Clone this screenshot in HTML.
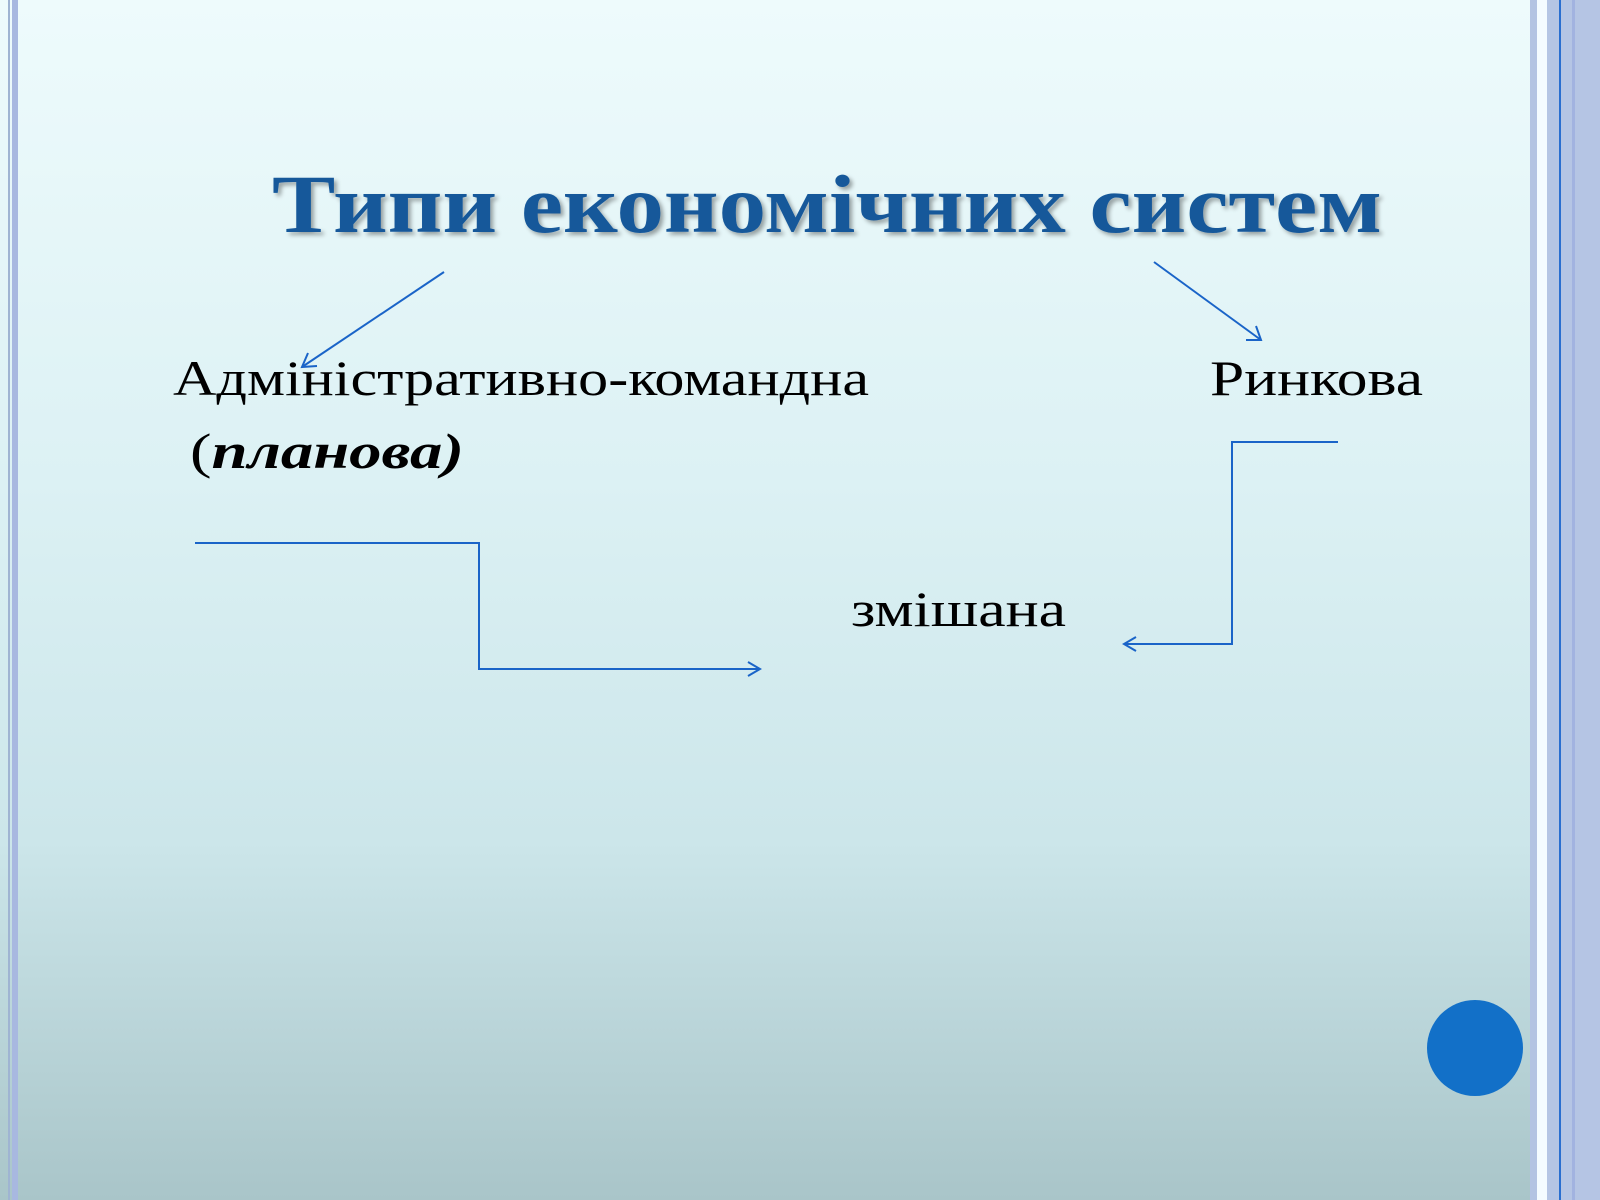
<!DOCTYPE html>
<html><head><meta charset="utf-8"><style>
html,body{margin:0;padding:0}
body{width:1600px;height:1200px;overflow:hidden;position:relative;background:linear-gradient(to bottom,#eefbfc 0%,#dcf1f4 40%,#cce6ea 70%,#a9c5c9 100%)}
.b{position:absolute;top:0;height:1200px}
svg{position:absolute;left:0;top:0}
</style></head><body>
<div class="b" style="left:8px;width:2px;background:#9fb4d2"></div>
<div class="b" style="left:12px;width:6px;background:#a8b8e0"></div>
<div class="b" style="left:1530px;width:7px;background:#b3c3e2"></div>
<div class="b" style="left:1537px;width:10px;background:#f4fbff"></div>
<div class="b" style="left:1547px;width:53px;background:#b5c5e4"></div>
<div class="b" style="left:1559px;width:2px;background:#2a6fd0"></div>
<div class="b" style="left:1572px;width:3px;background:#a2b3e0"></div>
<svg width="1600" height="1200" viewBox="0 0 1600 1200">
<defs><filter id="s"><feDropShadow dx="3" dy="3" stdDeviation="2" flood-color="#000" flood-opacity="0.35"/></filter></defs>
<text x="272" y="232" font-family="Liberation Serif, serif" font-weight="bold" font-size="83" fill="#15589a" textLength="1110" lengthAdjust="spacingAndGlyphs" filter="url(#s)">Типи економічних систем</text>
<g font-family="Liberation Serif, serif" font-size="50" fill="#000">
<text x="173" y="395" textLength="696" lengthAdjust="spacingAndGlyphs">Адміністративно-командна</text>
<text x="190" y="468" textLength="274" lengthAdjust="spacingAndGlyphs">(<tspan font-weight="bold" font-style="italic">планова)</tspan></text>
<text x="1210" y="395" textLength="213" lengthAdjust="spacingAndGlyphs">Ринкова</text>
<text x="851" y="626" textLength="215" lengthAdjust="spacingAndGlyphs">змішана</text>
</g>
<g stroke="#1a64c8" stroke-width="2" fill="none">
<line x1="444" y1="272" x2="302" y2="367"/>
<polyline points="317,366 302,367 308,353"/>
<line x1="1154" y1="262" x2="1261" y2="340"/>
<polyline points="1246,340 1261,340 1256,326"/>
<polyline points="195,543 479,543 479,669 760,669"/>
<polyline points="748,662 760,669 748,676"/>
<polyline points="1338,442 1232,442 1232,644 1124,644"/>
<polyline points="1136,637 1124,644 1136,651"/>
</g>
<circle cx="1475" cy="1048" r="48" fill="#1270c8"/>
</svg>
</body></html>
